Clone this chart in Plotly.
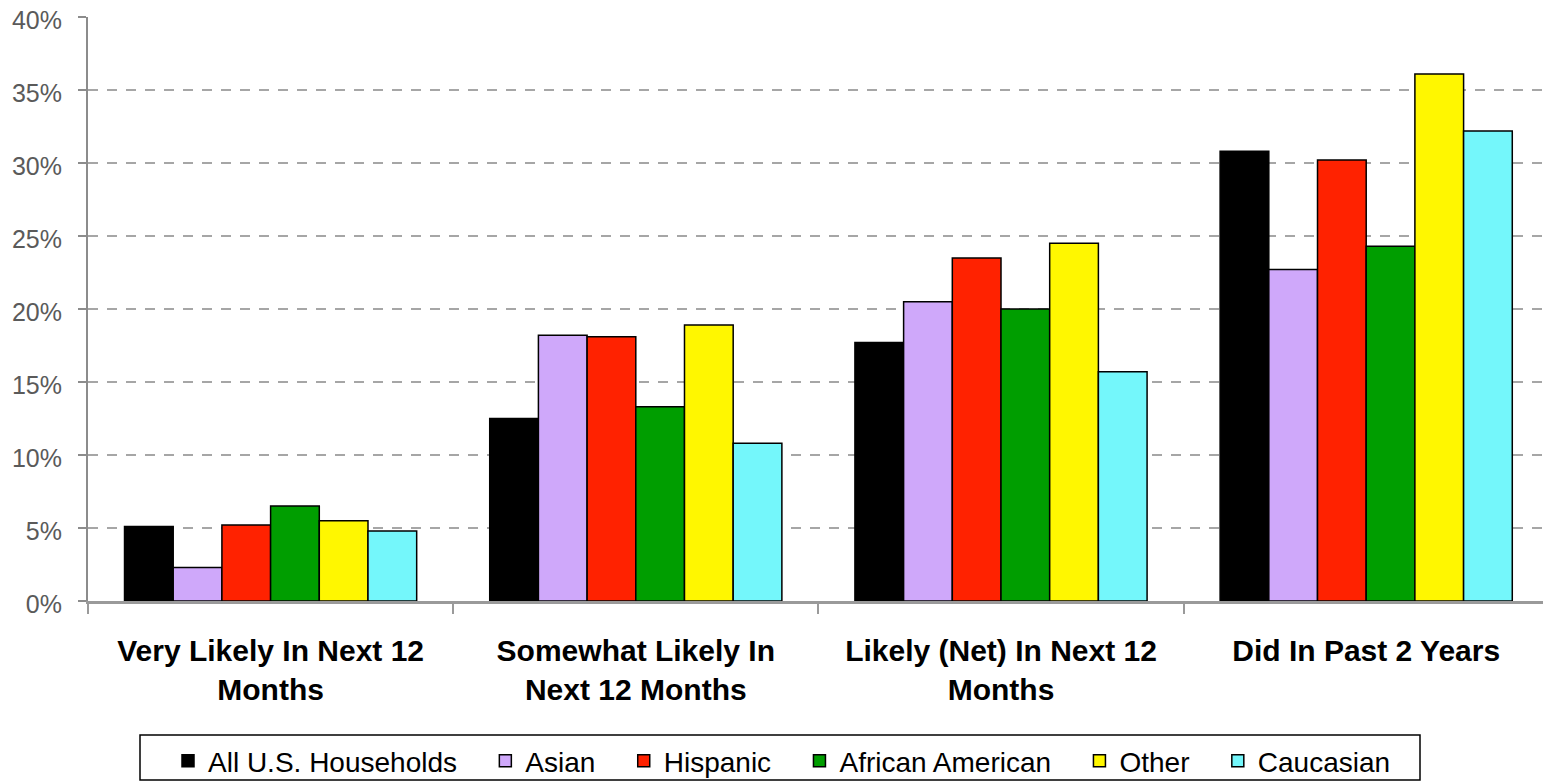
import plotly.graph_objects as go

categories = [
    "Very Likely In Next 12<br>Months",
    "Somewhat Likely In<br>Next 12 Months",
    "Likely (Net) In Next 12<br>Months",
    "Did In Past 2 Years",
]

all_us = [5.1, 12.5, 17.7, 30.8]
asian = [2.3, 18.2, 20.5, 22.7]
hispanic = [5.2, 18.1, 23.5, 30.2]
african_american = [6.5, 13.3, 20.0, 24.3]
other = [5.5, 18.9, 24.5, 36.1]
caucasian = [4.8, 10.8, 15.7, 32.2]

series_names = ["All U.S. Households", "Asian", "Hispanic", "African American", "Other", "Caucasian"]
series_values = [all_us, asian, hispanic, african_american, other, caucasian]
series_colors = ["#000000", "#CFA8FA", "#FF2200", "#009E00", "#FFF700", "#74F7FB"]

y_ticks = [0, 5, 10, 15, 20, 25, 30, 35, 40]

FONT = "Arial, 'Liberation Sans', sans-serif"
W, H = 1543, 782
ML, MR, MT, MB = 88, 0, 17, 181
PW = W - ML - MR
PH = H - MT - MB
PAD = "\u00a0" * 3  # visual spacing between legend entries

fig = go.Figure()
for name, vals, col in zip(series_names, series_values, series_colors):
    fig.add_trace(go.Bar(
        x=categories, y=vals, name=name + PAD,
        marker=dict(color=col, line=dict(color="#000000", width=1.5)),
    ))

# legend frame (pixel positions converted to paper coordinates)
def px_x(p):
    return (p - ML) / PW

def px_y(p):
    return (H - MB - p) / PH

fig.add_shape(
    type="rect", xref="paper", yref="paper",
    x0=px_x(140), x1=px_x(1420), y0=px_y(780), y1=px_y(735),
    line=dict(color="#000000", width=1.5), fillcolor="rgba(0,0,0,0)",
    layer="above",
)

fig.update_layout(
    width=W, height=H,
    margin=dict(l=ML, r=MR, t=MT, b=MB, pad=0),
    paper_bgcolor="white", plot_bgcolor="white",
    barmode="group", bargap=0.2, bargroupgap=0,
    font=dict(family=FONT, color="#000000"),
    showlegend=True,
    legend=dict(
        orientation="h",
        xref="container", yref="container",
        x=168 / W, xanchor="left",
        y=(H - 736) / H, yanchor="top",
        borderwidth=0,
        bgcolor="rgba(0,0,0,0)",
        font=dict(family=FONT, size=28, color="#000000"),
        itemwidth=30,
        traceorder="normal",
    ),
    xaxis=dict(
        range=[-0.5, -0.5 + PW / 365.2],
        showline=True, linecolor="#9a9a9a", linewidth=2.5,
        ticks="outside", tickson="boundaries", ticklen=10, tickwidth=1.5, tickcolor="#9a9a9a",
        tickfont=dict(family=FONT, size=30, color="#000000", weight="bold"),
        ticklabelstandoff=21,
        showgrid=False,
    ),
    yaxis=dict(
        range=[0, 40],
        tickvals=y_ticks,
        ticktext=[f"{v}%" for v in y_ticks],
        showline=True, linecolor="#8c8c8c", linewidth=2,
        ticks="outside", ticklen=8, tickwidth=1.5, tickcolor="#8c8c8c",
        tickfont=dict(family=FONT, size=25, color="#5a5a5a"),
        ticklabelstandoff=11,
        ticklabelshift=3,
        showgrid=True, gridcolor="#a6a6a6", gridwidth=2, griddash="10px,9px",
        zeroline=False,
    ),
)

fig.write_html("out.html")
